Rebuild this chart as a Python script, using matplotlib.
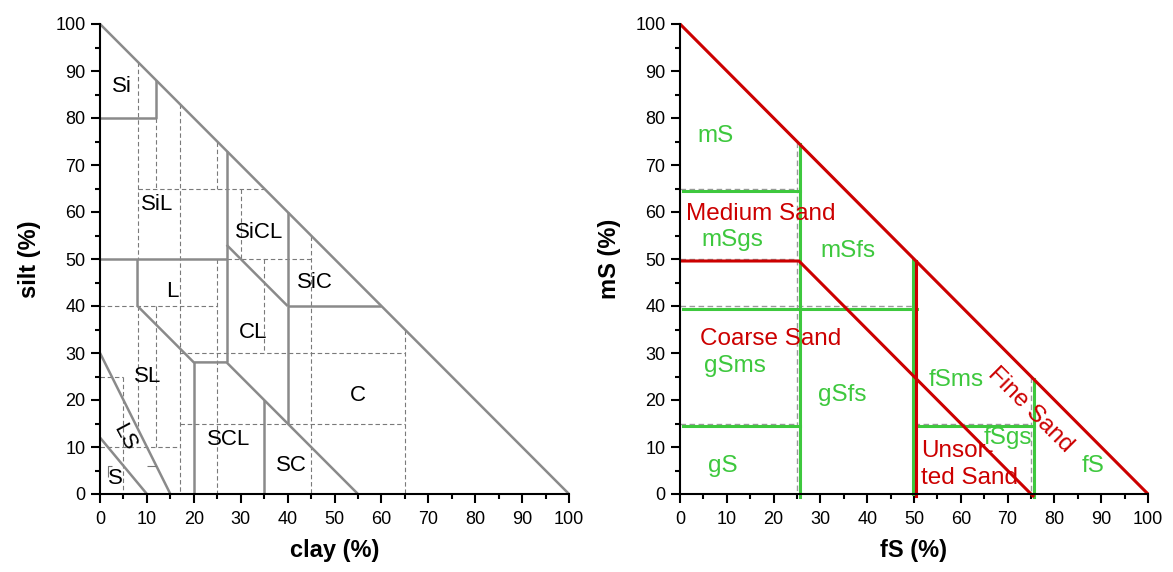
import matplotlib.pyplot as plt
from matplotlib.ticker import MultipleLocator
from matplotlib.transforms import ScaledTranslation

plt.rcParams['font.family'] = ['Liberation Sans', 'DejaVu Sans']

# --- soil texture triangle, (clay %, silt %) ---
class_lines = [
    [(0, 100), (100, 0)],
    [(0, 80), (12, 80), (12, 88)],
    [(0, 50), (27, 50)],
    [(27, 73), (27, 28)],
    [(8, 50), (8, 40), (20, 28), (27, 28), (55, 0)],
    [(20, 28), (20, 0)],
    [(35, 20), (35, 0)],
    [(27, 53), (40, 40)],
    [(40, 60), (40, 15)],
    [(40, 40), (60, 40)],
    [(0, 30), (15, 0)],
    [(0, 12), (10, 0)],
]
subclass_lines = [
    [(8, 92), (8, 50)], [(8, 40), (8, 14)],
    [(5, 25), (5, 0)], [(0, 25), (5, 25)],
    [(0, 10), (17, 10)],
    [(12, 80), (12, 65)], [(12, 40), (12, 10)],
    [(17, 83), (17, 0)],
    [(25, 75), (25, 65)], [(25, 50), (25, 0)],
    [(8, 65), (35, 65)],
    [(30, 65), (30, 50)],
    [(27, 50), (45, 50)],
    [(35, 50), (35, 30)],
    [(45, 55), (45, 0)],
    [(0, 40), (25, 40)],
    [(17, 30), (65, 30)],
    [(65, 35), (65, 0)],
    [(17, 15), (65, 15)],
]
stray_lines = [
    [(1.6, 3.7), (1.6, 6), (2.5, 6)],
    [(10, 6), (12, 6)],
]
class_names = ['Si', 'SiL', 'SiCL', 'SiC', 'L', 'CL', 'SL', 'C', 'SCL', 'SC', 'S']
class_x = [4.7, 12.2, 33.9, 45.8, 15.4, 32.6, 10.2, 55, 27.5, 40.9, 3.2]
class_y = [86.8, 61.7, 55.7, 45.1, 43, 34.3, 25.1, 20.9, 11.5, 6, 3.2]
ls_label = ('LS', 5.1, 12.1)

# --- sand fractions, (fS %, mS %) ---
sand_outer = [[(0, 100), (100, 0)]]
sand_inner = [[(0, 50), (25, 50), (75, 0)], [(50, 50), (50, 0)]]
sort_lines = [
    [(25, 75), (25, 0)],
    [(0, 65), (25, 65)],
    [(0, 40), (50, 40)],
    [(0, 15), (25, 15)],
    [(50, 15), (75, 15)],
    [(75, 25), (75, 0)],
]
sort_mid = [[(50, 50), (50, 0)]]
sort_guides = sort_lines + [[(0, 50), (25, 50)], [(50, 50), (50, 0)]]

green_names = ['mS', 'mSgs', 'mSfs', 'gSms', 'gSfs', 'fSms', 'fSgs', 'gS', 'fS']
green_x = [7.5, 11.1, 35.9, 11.8, 34.6, 59, 70, 9.2, 88.2]
green_y = [76.2, 54, 51.7, 27.2, 21, 24.3, 11.9, 6, 6]
red_names = ['Medium Sand', 'Coarse Sand', 'Unsor-\nted Sand']
red_x = [1.3, 4.3, 51.5]
red_y = [59.6, 33, 6.3]
fine_label = ('Fine Sand', 74.8, 17.9)

GRAY = '#8a8a8a'
RED = '#cc0000'
GREEN = '#3ec83e'
DASH = (0, (4, 2.5))

fig = plt.figure(figsize=(11.73, 5.72), dpi=100)
ax1 = fig.add_axes([100 / 1173, 78 / 572, 469 / 1173, 470 / 572])
ax2 = fig.add_axes([680 / 1173, 78 / 572, 468 / 1173, 470 / 572])


def shifted(ax, dx, dy):
    # offset in pixels on top of data coordinates
    return ax.transData + ScaledTranslation(dx / 100, dy / 100, fig.dpi_scale_trans)


def draw(ax, lines, **kw):
    for pts in lines:
        xs, ys = zip(*pts)
        ax.plot(xs, ys, clip_on=False, solid_capstyle='butt', **kw)


for ax in (ax1, ax2):
    ax.set_xlim(0, 100)
    ax.set_ylim(0, 100)
    for s in ('top', 'right'):
        ax.spines[s].set_visible(False)
    for s in ('left', 'bottom'):
        ax.spines[s].set_linewidth(1.5)
    ax.xaxis.set_major_locator(MultipleLocator(10))
    ax.yaxis.set_major_locator(MultipleLocator(10))
    ax.xaxis.set_minor_locator(MultipleLocator(5))
    ax.yaxis.set_minor_locator(MultipleLocator(5))
    ax.tick_params(which='major', direction='out', length=6.5, width=1.5,
                   labelsize=13)
    ax.tick_params(which='minor', direction='out', length=3.5, width=1.5)
    ax.tick_params(axis='x', pad=6)
    ax.tick_params(axis='y', pad=4)

# left triangle
draw(ax1, subclass_lines, color='#7a7a7a', lw=0.8, ls=DASH)
draw(ax1, class_lines, color=GRAY, lw=1.8)
draw(ax1, stray_lines, color='#777777', lw=0.8)
for name, x, y in zip(class_names, class_x, class_y):
    ax1.text(x, y, name, fontsize=16, ha='center', va='center')
ax1.text(ls_label[1], ls_label[2], ls_label[0], fontsize=16, rotation=-62,
         ha='center', va='center', rotation_mode='anchor')
ax1.set_xlabel('clay (%)', fontsize=17, fontweight='bold', labelpad=8)
ax1.set_ylabel('silt (%)', fontsize=17, fontweight='bold', labelpad=10)

# right triangle
for pts in sort_guides:
    xs, ys = zip(*pts)
    ax2.plot(xs, ys, color='#999999', lw=1.0, ls=DASH, clip_on=False)
for pts in sort_lines:
    xs, ys = zip(*pts)
    ax2.plot(xs, ys, color=GREEN, lw=2.2, clip_on=False,
             transform=shifted(ax2, 2.5, -2.5))
for pts in sort_mid:
    xs, ys = zip(*pts)
    ax2.plot(xs, ys, color=GREEN, lw=2.2, clip_on=False,
             transform=shifted(ax2, -1.5, 0))
draw(ax2, sand_outer, color=RED, lw=2.2)
for pts in sand_inner:
    xs, ys = zip(*pts)
    ax2.plot(xs, ys, color=RED, lw=2.2, clip_on=False,
             transform=shifted(ax2, 2, -2))

for name, x, y in zip(green_names, green_x, green_y):
    ax2.text(x, y, name, fontsize=17.5, color=GREEN, ha='center', va='center')
for name, x, y in zip(red_names, red_x, red_y):
    ax2.text(x, y, name, fontsize=17.5, color=RED, ha='left', va='center',
             linespacing=1.3)
ax2.text(fine_label[1], fine_label[2], fine_label[0], fontsize=17.5, color=RED,
         rotation=-45, ha='center', va='center', rotation_mode='anchor')
ax2.set_xlabel('fS (%)', fontsize=17, fontweight='bold', labelpad=8)
ax2.set_ylabel('mS (%)', fontsize=17, fontweight='bold', labelpad=10)

fig.savefig('out.png', dpi=100)
